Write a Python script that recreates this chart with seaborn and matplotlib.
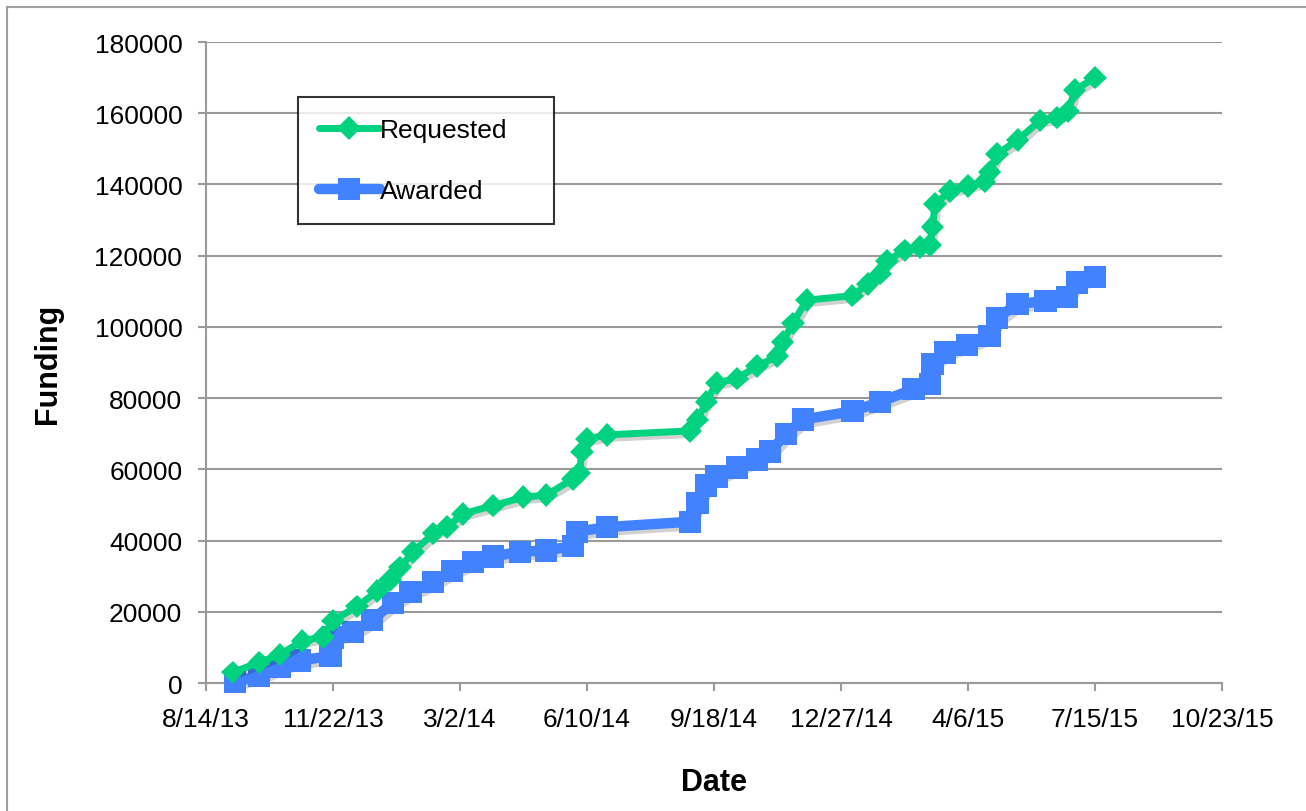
import pandas as pd
import seaborn as sns
import matplotlib.pyplot as plt
import matplotlib.patheffects as pe
from matplotlib.patches import Rectangle

# cumulative funding
req_dates = ["2013-09-04", "2013-09-25", "2013-10-11", "2013-10-29", "2013-11-14",
             "2013-11-22", "2013-12-11", "2013-12-27", "2014-01-06", "2014-01-14",
             "2014-01-24", "2014-02-09", "2014-02-20", "2014-03-04", "2014-03-28",
             "2014-04-21", "2014-05-09", "2014-05-30", "2014-06-04", "2014-06-06",
             "2014-06-10", "2014-06-26", "2014-08-30", "2014-09-05", "2014-09-12",
             "2014-09-20", "2014-10-06", "2014-10-22", "2014-11-07", "2014-11-11",
             "2014-11-19", "2014-11-30", "2015-01-05", "2015-01-17", "2015-01-27",
             "2015-02-01", "2015-02-15", "2015-02-27", "2015-03-07", "2015-03-09",
             "2015-03-11", "2015-03-23", "2015-04-06", "2015-04-19", "2015-04-23",
             "2015-04-29", "2015-05-15", "2015-06-02", "2015-06-15", "2015-06-24",
             "2015-06-29", "2015-07-15"]
req_values = [3000, 5800, 8000, 11800, 13000,
              17500, 21500, 25800, 29000, 32500,
              36800, 42000, 43800, 47500, 49800,
              52200, 52800, 57300, 59000, 65000,
              68500, 69700, 70800, 74000, 79000,
              84300, 85500, 89000, 91800, 95800,
              101000, 107500, 108800, 112000, 115000,
              118500, 121500, 122500, 123000, 128000,
              134500, 138200, 139600, 140800, 143500,
              148500, 152500, 158000, 158800, 160500,
              166500, 170000]

awd_dates = ["2013-09-06", "2013-09-25", "2013-10-11", "2013-10-27", "2013-11-20",
             "2013-11-22", "2013-12-08", "2013-12-23", "2014-01-08", "2014-01-22",
             "2014-02-09", "2014-02-24", "2014-03-12", "2014-03-28", "2014-04-18",
             "2014-05-09", "2014-05-30", "2014-06-02", "2014-06-26", "2014-08-30",
             "2014-09-05", "2014-09-12", "2014-09-20", "2014-10-06", "2014-10-22",
             "2014-11-01", "2014-11-14", "2014-11-27", "2015-01-05", "2015-01-27",
             "2015-02-22", "2015-03-07", "2015-03-09", "2015-03-19", "2015-04-05",
             "2015-04-23", "2015-04-29", "2015-05-15", "2015-06-06", "2015-06-23",
             "2015-07-01", "2015-07-15"]
awd_values = [300, 2000, 4500, 6300, 7600,
              12800, 14300, 17800, 22500, 25500,
              28300, 31500, 34000, 35500, 36900,
              37200, 38500, 42500, 43800, 45300,
              50500, 55500, 58000, 60500, 62800,
              65000, 70000, 74000, 76300, 79000,
              82500, 84000, 89500, 92800, 95000,
              97500, 102500, 106500, 107200, 108300,
              112500, 114000]

y_ticks = [0, 20000, 40000, 60000, 80000, 100000, 120000, 140000, 160000, 180000]

req = pd.DataFrame({"Date": pd.to_datetime(req_dates), "Funding": req_values})
awd = pd.DataFrame({"Date": pd.to_datetime(awd_dates), "Funding": awd_values})

sns.set_style("white")
plt.rcParams["font.family"] = ["Liberation Sans", "DejaVu Sans"]
plt.rcParams["text.color"] = "black"
plt.rcParams["axes.labelcolor"] = "black"
plt.rcParams["xtick.labelcolor"] = "black"
plt.rcParams["ytick.labelcolor"] = "black"

green = "#00d27f"
blue = "#4282ff"
shadow = [pe.SimpleLineShadow(offset=(2, -2.5), alpha=0.18, shadow_color="black"), pe.Normal()]

fig = plt.figure(figsize=(13.06, 8.12), dpi=100)
ax = fig.add_axes([0.1577, 0.1576, 0.778, 0.7894])

sns.lineplot(data=req, x="Date", y="Funding", ax=ax, color=green, lw=5,
             marker="D", markersize=12, markeredgewidth=0, label="Requested",
             path_effects=shadow, zorder=4, clip_on=False)
sns.lineplot(data=awd, x="Date", y="Funding", ax=ax, color=blue, lw=7.5,
             marker="s", markersize=16, markeredgewidth=0, label="Awarded",
             path_effects=shadow, zorder=3, clip_on=False)

# x axis: every 100 days
start = pd.Timestamp("2013-08-14")
x_ticks = pd.date_range(start, periods=9, freq="100D")
ax.set_xlim(x_ticks[0], x_ticks[-1])
ax.set_xticks(x_ticks)
ax.set_xticklabels([f"{d.month}/{d.day}/{d.strftime('%y')}" for d in x_ticks])
ax.set_ylim(0, 180000)
ax.set_yticks(y_ticks)
ax.set_yticklabels([str(v) for v in y_ticks])

ax.yaxis.grid(True, color="#9a9a9a", lw=1.5)
ax.set_axisbelow(True)
for s in ["top", "right"]:
    ax.spines[s].set_visible(False)
for s in ["left", "bottom"]:
    ax.spines[s].set_color("#9a9a9a")
    ax.spines[s].set_linewidth(1.5)
ax.tick_params(axis="both", which="major", labelsize=19, length=6, width=1.5,
               color="#9a9a9a", pad=11, direction="out", left=True, bottom=True)

ax.set_xlabel("Date", fontsize=22, fontweight="bold", labelpad=26)
ax.set_ylabel("Funding", fontsize=22, fontweight="bold", labelpad=23)

leg = ax.legend(loc="upper left", bbox_to_anchor=(0.0906, 0.0, 0.252, 0.914),
                mode="expand", borderaxespad=0,
                fontsize=19, frameon=True, fancybox=False, edgecolor="black",
                handlelength=2.3, handletextpad=0.0, labelspacing=1.4, borderpad=0.8)
leg.get_frame().set_linewidth(1.5)
for line in leg.get_lines():
    line.set_path_effects([])

# thin gray frame around the figure (only left/top show)
fig.patches.append(Rectangle((0.0054, -0.1), 1.2, 1.09, transform=fig.transFigure,
                             fill=False, edgecolor="#a0a0a0", lw=1.5))

fig.savefig("out.png", dpi=100)
